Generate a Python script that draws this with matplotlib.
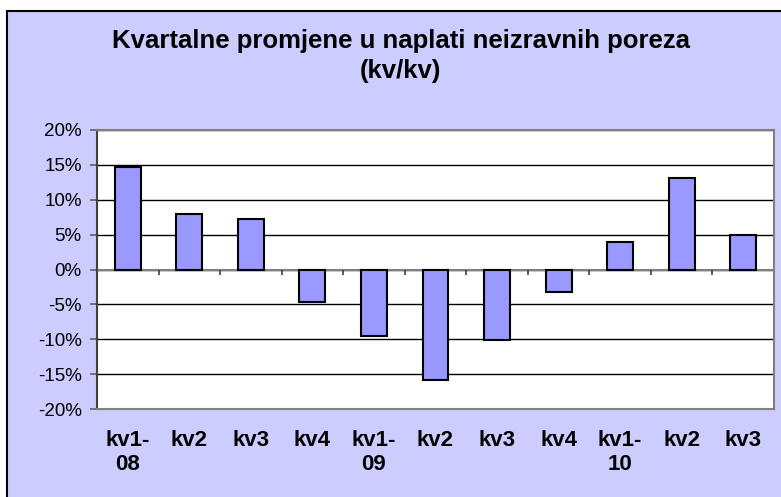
import matplotlib.pyplot as plt
import matplotlib.patches as mpatches
import numpy as np

# quarterly change in indirect tax collection (q/q), percent
quarters = ['kv1-\n08', 'kv2', 'kv3', 'kv4', 'kv1-\n09', 'kv2', 'kv3', 'kv4',
            'kv1-\n10', 'kv2', 'kv3']
changes = [14.7, 7.9, 7.2, -4.6, -9.6, -15.8, -10.1, -3.2, 4.0, 13.1, 5.0]
y_ticks = [-20, -15, -10, -5, 0, 5, 10, 15, 20]

plt.rcParams['font.family'] = ['Liberation Sans', 'DejaVu Sans']

fig = plt.figure(figsize=(7.81, 4.97), dpi=100)
fig.patch.set_facecolor('white')

# lavender chart area with a black frame (cut at the right/bottom edge)
bg = mpatches.Rectangle((7 / 781, -0.05), 1.1, 1 - 11 / 497 + 0.05,
                        transform=fig.transFigure, facecolor='#CCCCFF',
                        edgecolor='black', linewidth=1.5, zorder=-10)
fig.patches.append(bg)

ax = fig.add_axes([97 / 781, 1 - 409 / 497, (774 - 97) / 781, (409 - 130) / 497])
ax.set_facecolor('white')

x = np.arange(len(quarters))
ax.bar(x, changes, width=0.42, color='#9999FF', edgecolor='black',
       linewidth=1.5, zorder=3)

ax.set_xlim(-0.5, len(quarters) - 0.5)
ax.set_ylim(y_ticks[0], y_ticks[-1])
ax.set_yticks(y_ticks)
ax.set_yticklabels([f'{v}%' for v in y_ticks], fontsize=13.5)
ax.yaxis.grid(True, color='black', linewidth=1.0)
ax.set_axisbelow(True)

# zero line with category separator ticks
ax.axhline(0, color='#808080', linewidth=1.5, zorder=2)
bounds = x[:-1] + 0.5
ax.vlines(bounds, -0.75, 0, color='#404040', linewidth=1.2, zorder=2)

ax.set_xticks(x)
ax.set_xticklabels(quarters, fontsize=16, fontweight='bold',
                   linespacing=1.2, va='top')
ax.tick_params(axis='x', length=0, pad=15)
ax.tick_params(axis='y', length=5, color='#606060', width=1.2, pad=6)

for side in ['top', 'right', 'bottom']:
    ax.spines[side].set_color('#808080')
    ax.spines[side].set_linewidth(1.5)
ax.spines['left'].set_color('#404040')
ax.spines['left'].set_linewidth(1.5)

fig.text(0.513, 1 - 56 / 497, 'Kvartalne promjene u naplati neizravnih poreza\n(kv/kv)',
         ha='center', va='center', fontsize=18.5, fontweight='bold',
         linespacing=1.3)

fig.savefig('out.png', dpi=100, facecolor=fig.get_facecolor())
